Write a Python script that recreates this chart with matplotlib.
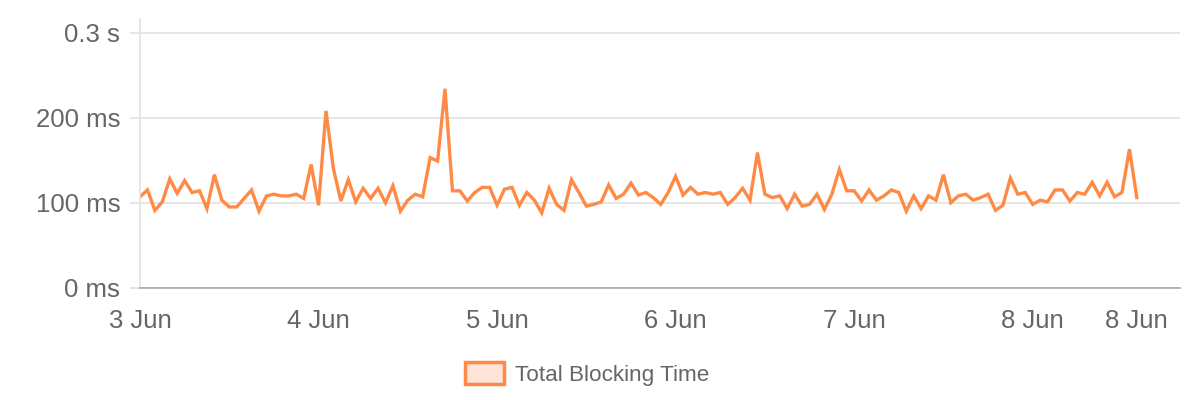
import matplotlib
matplotlib.use("Agg")
import matplotlib.pyplot as plt
from matplotlib.patches import Patch

plt.rcParams['font.family'] = ['Liberation Sans', 'DejaVu Sans']

# hourly samples starting 3 Jun 00:00
tbt_ms = [107, 115, 91, 101, 128, 111, 126, 112, 114, 93,
          133, 103, 95, 95, 105, 115, 90, 108, 110, 108,
          108, 110, 105, 145, 97, 208, 140, 102, 127, 101,
          117, 105, 117, 100, 120, 90, 103, 110, 107, 153,
          149, 234, 114, 114, 102, 112, 118, 118, 97, 116,
          118, 97, 112, 103, 88, 117, 98, 91, 127, 112,
          96, 98, 101, 121, 105, 110, 123, 109, 112, 106,
          98, 112, 131, 109, 118, 110, 112, 110, 112, 98,
          106, 117, 103, 159, 110, 106, 108, 93, 110, 96,
          98, 110, 92, 110, 139, 114, 114, 102, 115, 103,
          108, 115, 112, 90, 108, 93, 108, 103, 133, 100,
          108, 110, 103, 106, 110, 91, 97, 129, 110, 112,
          98, 103, 101, 115, 115, 102, 112, 110, 124, 108,
          124, 107, 112, 163, 106]
hours = list(range(len(tbt_ms)))

x_tick_hours = [0, 24, 48, 72, 96, 120, 134]
x_tick_labels = ["3 Jun", "4 Jun", "5 Jun", "6 Jun", "7 Jun", "8 Jun", "8 Jun"]
y_tick_values = [0, 100, 200, 300]
y_tick_labels = ["0 ms", "100 ms", "200 ms", "0.3 s"]
series_label = "Total Blocking Time"

line_color = "#FF8A45"
fill_color = "#FFE4D8"
text_color = "#666666"
grid_color = "#E2E2E2"

fig = plt.figure(figsize=(12, 4), dpi=100)
ax = fig.add_axes([140/1200, 1 - 287.7/400, 1040/1200, (287.7 - 19)/400])

ax.plot(hours, tbt_ms, color=line_color, linewidth=2.4, solid_joinstyle='miter')

ax.set_xlim(0, 139.8)
ax.set_ylim(0, 300 + (32.7 - 19) / 85.0 * 100)

ax.set_yticks(y_tick_values)
ax.set_yticklabels(y_tick_labels)
ax.set_xticks(x_tick_hours)
ax.set_xticklabels(x_tick_labels)

ax.grid(axis='y', color=grid_color, linewidth=1.2)
ax.set_axisbelow(True)
for s in ['top', 'right']:
    ax.spines[s].set_visible(False)
ax.spines['left'].set_color(grid_color)
ax.spines['left'].set_linewidth(1.2)
ax.spines['bottom'].set_color('#A8A8A8')
ax.spines['bottom'].set_linewidth(1.2)

ax.tick_params(axis='y', length=7.2, width=1.2, color=grid_color, pad=7,
               labelsize=18.5, labelcolor=text_color)
ax.tick_params(axis='x', length=0, pad=15, labelsize=18.5, labelcolor=text_color)

handle = Patch(facecolor=fill_color, edgecolor=line_color, linewidth=2.5, label=series_label)
fig.legend(handles=[handle], loc='center', bbox_to_anchor=(587/1200, 1 - 374/400),
           frameon=False, fontsize=16.2, labelcolor=text_color,
           handlelength=1.75, handleheight=1.15, handletextpad=0.5)

fig.savefig("out.png", dpi=100, facecolor='white')
